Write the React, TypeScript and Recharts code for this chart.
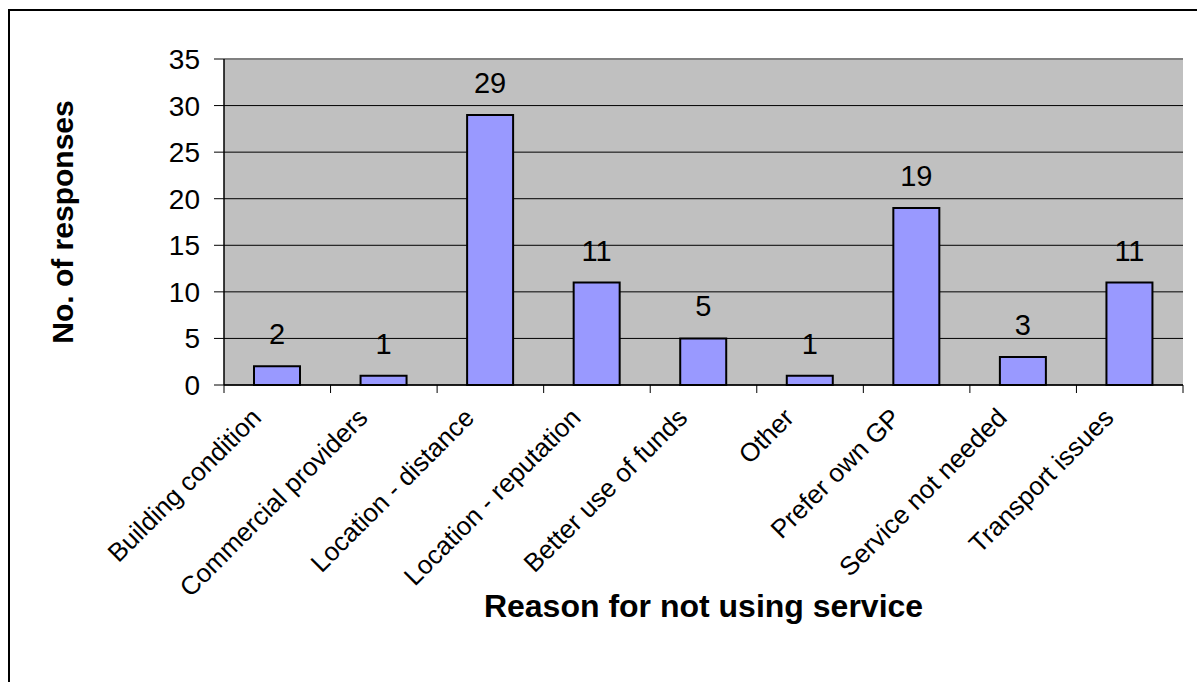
import React from 'react';
import { ComposedChart, Bar, XAxis, YAxis, CartesianGrid, LabelList, ReferenceLine, Label } from 'recharts';

const categories = [
  'Building condition',
  'Commercial providers',
  'Location - distance',
  'Location - reputation',
  'Better use of funds',
  'Other',
  'Prefer own GP',
  'Service not needed',
  'Transport issues',
];
const responses = [2, 1, 29, 11, 5, 1, 19, 3, 11];
const yTicks = [0, 5, 10, 15, 20, 25, 30, 35];
const xTitle = 'Reason for not using service';
const yTitle = 'No. of responses';

const data = categories.map((name, i) => ({ name, value: responses[i] }));

const FONT = '"Liberation Sans", Arial, Helvetica, sans-serif';
const W = 1197;
const H = 682;
const M = { top: 59, right: 14, left: 0, bottom: 0 };
const Y_AXIS_W = 224;
const X_AXIS_H = 297;
const PLOT_W = W - M.left - M.right - Y_AXIS_W;
const PLOT_H = H - M.top - M.bottom - X_AXIS_H;
const BAND = PLOT_W / categories.length;

const CatTick = (props: any) => {
  const { x, y, payload, index } = props;
  const bx = x - BAND / 2;
  const tx = x - 21;
  const ty = y + 28;
  return (
    <g>
      <line x1={bx} y1={y} x2={bx} y2={y + 8} stroke="#000" strokeWidth={1} />
      {index === categories.length - 1 && (
        <line x1={x + BAND / 2} y1={y} x2={x + BAND / 2} y2={y + 8} stroke="#000" strokeWidth={1} />
      )}
      <text
        x={tx}
        y={ty}
        transform={`rotate(-45 ${tx} ${ty})`}
        textAnchor="end"
        dominantBaseline="central"
        fontSize={26}
        fontFamily={FONT}
        fill="#000"
      >
        {payload.value}
      </text>
    </g>
  );
};

const YTitle = () => {
  const x = 62;
  const y = M.top + PLOT_H / 2;
  return (
    <text
      x={x}
      y={y}
      transform={`rotate(-90 ${x} ${y})`}
      textAnchor="middle"
      dominantBaseline="central"
      fontSize={30}
      fontWeight="bold"
      fontFamily={FONT}
      fill="#000"
    >
      {yTitle}
    </text>
  );
};

const XTitle = () => {
  const x = Y_AXIS_W + M.left + PLOT_W / 2;
  const y = 606;
  return (
    <text
      x={x}
      y={y}
      textAnchor="middle"
      dominantBaseline="central"
      fontSize={32}
      fontWeight="bold"
      fontFamily={FONT}
      fill="#000"
    >
      {xTitle}
    </text>
  );
};

export default function App() {
  return (
    <div style={{ position: 'fixed', left: 0, top: 0, width: W, height: H, background: '#fff', overflow: 'hidden' }}>
      <div
        style={{
          position: 'absolute',
          left: 8,
          top: 9,
          width: 1210,
          height: 700,
          border: '2px solid #000',
          boxSizing: 'border-box',
        }}
      />
      <div style={{ position: 'absolute', left: 0, top: 0 }}>
        <ComposedChart width={W} height={H} data={data} margin={M}>
          <CartesianGrid vertical={false} stroke="#000" strokeWidth={1} fill="#C0C0C0" fillOpacity={1} />
          <XAxis
            dataKey="name"
            interval={0}
            height={X_AXIS_H}
            tickLine={false}
            tickSize={0}
            tickMargin={0}
            axisLine={{ stroke: '#000', strokeWidth: 1.5 }}
            tick={<CatTick />}
          >
            <Label content={<XTitle />} />
          </XAxis>
          <YAxis
            domain={[0, 35]}
            ticks={yTicks}
            interval={0}
            width={Y_AXIS_W}
            tickSize={10}
            tickMargin={14}
            axisLine={{ stroke: '#000', strokeWidth: 1.5 }}
            tickLine={{ stroke: '#000', strokeWidth: 1 }}
            tick={{ fill: '#000', fontSize: 28, fontFamily: FONT }}
          >
            <Label content={<YTitle />} />
          </YAxis>
          <YAxis
            yAxisId="right"
            orientation="right"
            domain={[0, 35]}
            width={0}
            tick={false}
            tickLine={false}
            axisLine={{ stroke: '#808080', strokeWidth: 2 }}
          />
          <ReferenceLine y={35} stroke="#808080" strokeWidth={2} />
          <Bar dataKey="value" fill="#9999FF" stroke="#000" strokeWidth={2} barSize={46} isAnimationActive={false}>
            <LabelList dataKey="value" position="top" offset={22} fill="#000" fontSize={29} fontFamily={FONT} />
          </Bar>
        </ComposedChart>
      </div>
    </div>
  );
}
